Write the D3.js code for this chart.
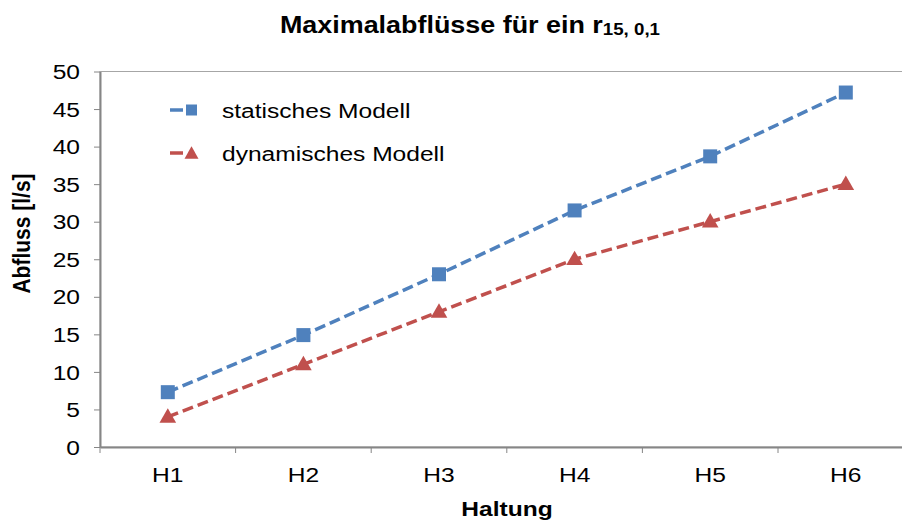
<!DOCTYPE html>
<html>
<head>
<meta charset="utf-8">
<script src="https://cdn.jsdelivr.net/npm/d3@7"></script>
<style>
  body { margin:0; background:#fff; }
  text { font-family: "Liberation Sans", Arial, sans-serif; fill:#000; }
</style>
</head>
<body>
<div id="chart"></div>
<script>
// data
let categories = ["H1","H2","H3","H4","H5","H6"]
let statisch   = [7.3, 14.9, 23.0, 31.5, 38.7, 47.2]
let dynamisch  = [4.0, 11.0, 18.0, 25.0, 30.0, 35.0]
let yTicks     = [0,5,10,15,20,25,30,35,40,45,50]
let seriesNames = ["statisches Modell","dynamisches Modell"]

let width = 902, height = 523,
    margin = { top:71.5, left:100, bottom:76 },
    sx = 1.17   // the picture is stretched sideways a bit

let blue = "#4F81BD", red = "#C0504D", axisGray = "#868686"

let svg = d3.select("#chart").append("svg")
  .attr("width",width).attr("height",height)

let x = d3.scaleBand().domain(categories).range([margin.left, margin.left + 6*135.6]).padding(0)
let y = d3.scaleLinear().domain([0,50]).range([height - margin.bottom, margin.top])

// plot area border (top line visible)
svg.append("rect")
  .attr("x",margin.left).attr("y",y(50))
  .attr("width",x.range()[1]-margin.left).attr("height",y(0)-y(50))
  .attr("fill","none").attr("stroke","#a6a6a6").attr("stroke-width",1)

// y axis
let yAxis = d3.axisLeft(y).tickValues(yTicks).tickSize(6).tickSizeOuter(0)
let yGroup = svg.append("g").attr("transform",`translate(${margin.left},0)`).call(yAxis)
yGroup.select(".domain").attr("stroke",axisGray).attr("stroke-width",2)
yGroup.selectAll(".tick line").attr("stroke",axisGray)
yGroup.selectAll(".tick text")
  .attr("x",-20/sx).attr("dy","0.34em")
  .attr("font-size",21)
  .attr("transform",`scale(${sx},1)`)

// x axis, labels centred in bands, ticks between categories
let xAxis = d3.axisBottom(x).tickSize(0).tickPadding(20).tickSizeOuter(0)
let xGroup = svg.append("g").attr("transform",`translate(0,${y(0)})`).call(xAxis)
xGroup.select(".domain").attr("stroke",axisGray).attr("stroke-width",2)
xGroup.selectAll(".tick text")
  .attr("font-size",21)
  .attr("transform",`scale(${sx},1)`)
xGroup.selectAll(".between").data(categories).enter().append("line")
  .attr("class","between")
  .attr("x1",d=>x(d)).attr("x2",d=>x(d))
  .attr("y1",0).attr("y2",6)
  .attr("stroke",axisGray)

// lines
let line = d3.line().x((d,i)=>x(categories[i]) + x.bandwidth()/2).y(d=>y(d))

svg.append("path").attr("d",line(statisch))
  .attr("fill","none").attr("stroke",blue).attr("stroke-width",3.5)
  .attr("stroke-dasharray","11,5")
svg.append("path").attr("d",line(dynamisch))
  .attr("fill","none").attr("stroke",red).attr("stroke-width",3.5)
  .attr("stroke-dasharray","11,5")

function square(g, cx, cy, s, c){
  g.append("rect").attr("x",cx-s/2).attr("y",cy-s/2).attr("width",s).attr("height",s).attr("fill",c)
}
function triangle(g, cx, cy, s, c){
  let h = s*0.9
  g.append("path").attr("d",`M${cx},${cy-h/2}L${cx+s/2},${cy+h/2}L${cx-s/2},${cy+h/2}Z`).attr("fill",c)
}

svg.selectAll(".sq").data(statisch).enter().append("rect")
  .attr("class","sq")
  .attr("x",(d,i)=>x(categories[i]) + x.bandwidth()/2 - 7)
  .attr("y",d=>y(d) - 7)
  .attr("width",14).attr("height",14)
  .attr("fill",blue)

svg.selectAll(".tri").data(dynamisch).enter().append("path")
  .attr("class","tri")
  .attr("d",d3.symbol().type(d3.symbolTriangle).size(120))
  .attr("transform",(d,i)=>`translate(${x(categories[i]) + x.bandwidth()/2},${y(d)+1})`)
  .attr("fill",red)

// legend
let legend = svg.append("g")
let legendY = [110, 153]
legendY.forEach((ly,i)=>{
  let c = i==0 ? blue : red
  legend.append("line").attr("x1",170).attr("x2",213).attr("y1",ly).attr("y2",ly)
    .attr("stroke",c).attr("stroke-width",3.5).attr("stroke-dasharray","13,30")
  if(i==0) square(legend,191.5,ly,11,c)
  else triangle(legend,191.5,ly-0.5,14,c)
  legend.append("text")
    .attr("transform",`translate(222,${ly+7.5}) scale(${sx},1)`)
    .attr("font-size",21)
    .text(seriesNames[i])
})

// title
let title = svg.append("text")
  .attr("transform",`translate(470,33) scale(${sx},1)`)
  .attr("text-anchor","middle")
  .attr("font-weight","bold")
  .attr("font-size",23)
title.append("tspan").text("Maximalabflüsse für ein r")
title.append("tspan").attr("font-size",16).attr("dy",2).text("15, 0,1")

// axis titles
svg.append("text")
  .attr("transform",`translate(507,516) scale(${sx},1)`)
  .attr("text-anchor","middle").attr("font-weight","bold").attr("font-size",21)
  .text("Haltung")
svg.append("text")
  .attr("transform",`translate(30,233.5) rotate(-90) scale(1,${sx})`)
  .attr("text-anchor","middle").attr("font-weight","bold").attr("font-size",21)
  .text("Abfluss [l/s]")
</script>
</body>
</html>
